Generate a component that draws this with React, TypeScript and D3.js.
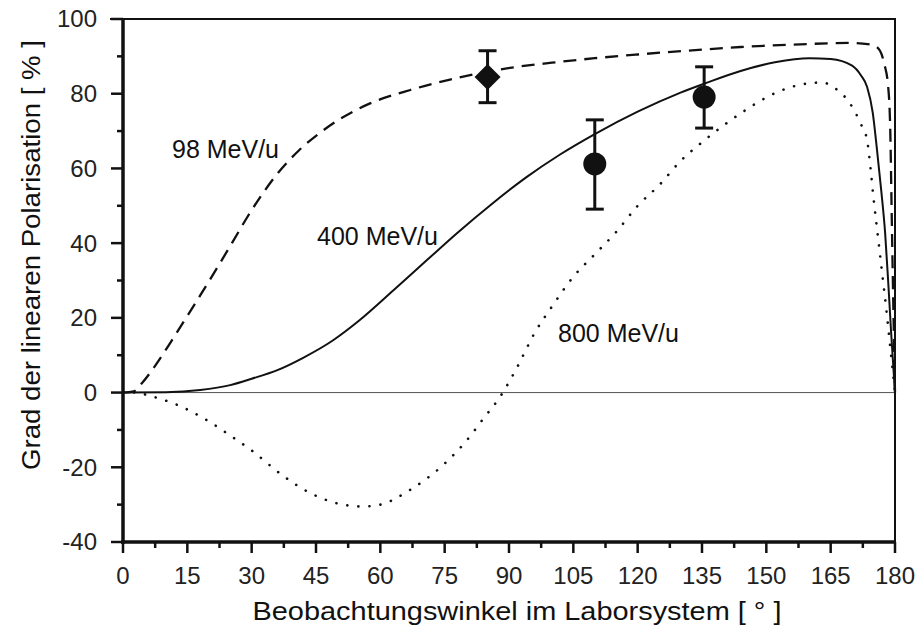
import React from "react";
import * as d3 from "d3";

const curve98: [number, number][] = [
  [0, 0], [2.5, 0.3], [4.4, 2.5], [8, 8], [11.4, 14], [15, 20.5], [18, 26], [22, 33.5],
  [25.4, 40], [29, 47], [32.4, 53], [36, 58.6], [41, 64.8], [46, 69.6], [50, 72.8],
  [57.6, 77.4], [67, 81], [76, 83.7], [89.5, 86.8], [100, 88.3], [110, 89.5],
  [120, 90.5], [135, 91.8], [144, 92.5], [155, 93.1], [165, 93.5], [170, 93.6],
  [172.5, 93.4], [174.9, 93], [176.5, 91.5], [177.5, 88], [178.4, 82], [178.9, 70],
  [179.2, 50], [179.5, 30], [179.8, 12], [180, 0],
];

const curve400: [number, number][] = [
  [0, 0], [10, 0.1], [18, 0.7], [25, 2], [30, 3.7], [36, 6], [42, 9.3], [49, 14],
  [55, 19.2], [63, 27.3], [71, 35.6], [78, 42.8], [86, 50.5], [94, 57.6], [102, 63.8],
  [110, 69.2], [120, 75.2], [130, 80.3], [136, 82.9], [144, 86.1], [152, 88.4],
  [160, 89.5], [165, 89.3], [170, 87.5], [172, 85], [173.5, 81.8], [174.8, 75],
  [175.8, 65], [176.8, 54], [177.7, 42.7], [178.5, 28], [179.1, 16], [180, 0],
];

const curve800: [number, number][] = [
  [0, 0], [3, 0], [6, -0.8], [12, -3], [19, -7], [25, -11.5], [30, -15.5], [37, -22],
  [43, -26.5], [48, -29], [53, -30.3], [56, -30.5], [60, -30], [67, -26], [75, -19],
  [80, -13], [84, -7], [88, -1], [92, 7], [96, 16], [100, 23], [105, 31], [110, 37],
  [115, 43], [120, 50], [125, 55.5], [130, 62], [135, 67], [140, 71.5], [145, 75.5],
  [150, 79], [155, 81.5], [160, 82.8], [163, 83], [166, 81.5], [170, 76.5], [172, 72],
  [173.5, 67.5], [174.3, 60], [175, 52], [176, 42], [177, 32], [178, 22], [179, 11], [180, 0],
];

const diamondPoint = { angle: 85, value: 84.5, lo: 77.6, hi: 91.5 };
const circlePoints = [
  { angle: 110, value: 61.2, lo: 49.1, hi: 73 },
  { angle: 135.5, value: 79.1, lo: 70.8, hi: 87.2 },
];

const xMajorTicks = [0, 15, 30, 45, 60, 75, 90, 105, 120, 135, 150, 165, 180];
const xMinorTicks = [7.5, 22.5, 37.5, 52.5, 67.5, 82.5, 97.5, 112.5, 127.5, 142.5, 157.5, 172.5];
const yMajorTicks = [-40, -20, 0, 20, 40, 60, 80, 100];
const yMinorTicks = [-30, -10, 10, 30, 50, 70, 90];

const labels = [
  { text: "98 MeV/u", x: 172, y: 158 },
  { text: "400 MeV/u", x: 317, y: 245 },
  { text: "800 MeV/u", x: 558, y: 342 },
];

const xTitle = "Beobachtungswinkel im Laborsystem [ ° ]";
const yTitle = "Grad der linearen Polarisation [ % ]";

export default function App() {
  const W = 918, H = 630;
  const left = 123, right = 895, top = 19, bottom = 542;
  const x = d3.scaleLinear().domain([0, 180]).range([left, right]);
  const y = d3.scaleLinear().domain([-40, 100]).range([bottom, top]);
  const line = d3
    .line<[number, number]>()
    .x((d) => x(d[0]))
    .y((d) => y(d[1]))
    .curve(d3.curveMonotoneX);
  const font = "'Liberation Sans', Arial, Helvetica, sans-serif";
  const ink = "#111";
  const ds = 13;
  return (
    <svg
      width={W}
      height={H}
      style={{ position: "absolute", left: 0, top: 0, background: "#fff" }}
      fontFamily={font}
    >
      <line x1={left} x2={right} y1={y(0)} y2={y(0)} stroke="#555" strokeWidth={1} />
      <path d={line(curve98) || ""} fill="none" stroke={ink} strokeWidth={2.3} strokeDasharray="13 8" />
      <path d={line(curve400) || ""} fill="none" stroke={ink} strokeWidth={2} />
      <path
        d={line(curve800) || ""}
        fill="none"
        stroke={ink}
        strokeWidth={2.6}
        strokeDasharray="0.1 11"
        strokeLinecap="round"
      />
      {[diamondPoint, ...circlePoints].map((p, i) => (
        <g key={i} stroke={ink} strokeWidth={3}>
          <line x1={x(p.angle)} x2={x(p.angle)} y1={y(p.lo)} y2={y(p.hi)} />
          <line x1={x(p.angle) - 9} x2={x(p.angle) + 9} y1={y(p.lo)} y2={y(p.lo)} />
          <line x1={x(p.angle) - 9} x2={x(p.angle) + 9} y1={y(p.hi)} y2={y(p.hi)} />
        </g>
      ))}
      <path
        d={`M${x(diamondPoint.angle)},${y(diamondPoint.value) - ds} l${ds},${ds} l${-ds},${ds} l${-ds},${-ds} Z`}
        fill={ink}
      />
      {circlePoints.map((p, i) => (
        <circle key={i} cx={x(p.angle)} cy={y(p.value)} r={11.5} fill={ink} />
      ))}
      <line x1={left - 13} x2={right + 1} y1={top} y2={top} stroke={ink} strokeWidth={2} />
      <line x1={right} x2={right} y1={top} y2={bottom} stroke={ink} strokeWidth={2} />
      <line x1={left} x2={left} y1={top - 1} y2={bottom + 2} stroke={ink} strokeWidth={3.5} />
      <line x1={left - 2} x2={right + 1} y1={bottom} y2={bottom} stroke={ink} strokeWidth={3.5} />
      {yMajorTicks.map((t) => (
        <g key={t}>
          <line x1={left - 12} x2={left} y1={y(t)} y2={y(t)} stroke={ink} strokeWidth={2.5} />
          <text x={97} y={y(t)} dy="0.35em" textAnchor="end" fontSize={24} fill="#222">
            {t}
          </text>
        </g>
      ))}
      {yMinorTicks.map((t) => (
        <line key={t} x1={left - 6} x2={left} y1={y(t)} y2={y(t)} stroke={ink} strokeWidth={2.5} />
      ))}
      {xMajorTicks.map((t) => (
        <g key={t}>
          <line x1={x(t)} x2={x(t)} y1={bottom} y2={bottom + 11} stroke={ink} strokeWidth={2.5} />
          <text x={x(t)} y={584} textAnchor="middle" fontSize={24} fill="#222">
            {t}
          </text>
        </g>
      ))}
      {xMinorTicks.map((t) => (
        <line key={t} x1={x(t)} x2={x(t)} y1={bottom} y2={bottom + 6} stroke={ink} strokeWidth={2.5} />
      ))}
      {labels.map((l) => (
        <text key={l.text} x={l.x} y={l.y} fontSize={25} fill={ink}>
          {l.text}
        </text>
      ))}
      <text
        x={517}
        y={620}
        textAnchor="middle"
        fontSize={26}
        fill={ink}
        textLength={529}
        lengthAdjust="spacingAndGlyphs"
      >
        {xTitle}
      </text>
      <text
        transform={`translate(40, 255) rotate(-90)`}
        textAnchor="middle"
        fontSize={26}
        fill={ink}
        textLength={430}
        lengthAdjust="spacingAndGlyphs"
      >
        {yTitle}
      </text>
    </svg>
  );
}
